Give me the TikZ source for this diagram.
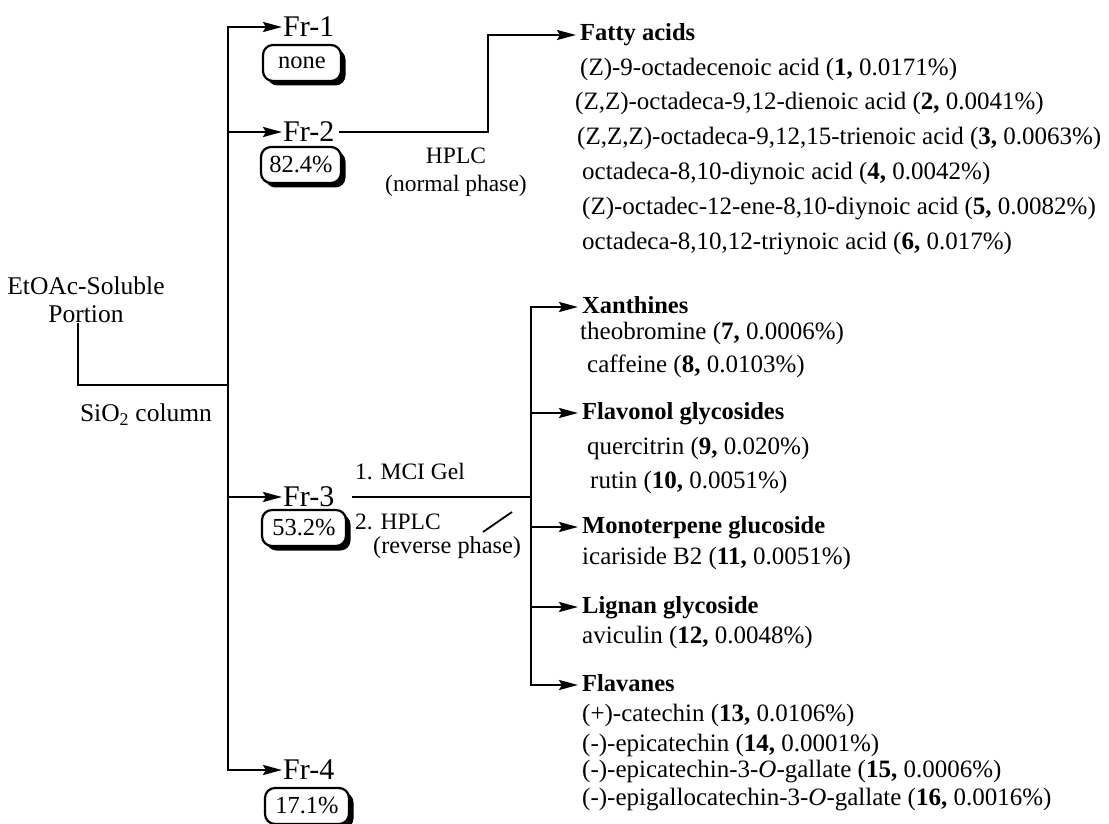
\documentclass[tikz,border=0pt]{standalone}
\usepackage{fontspec}
\setmainfont{Liberation Serif}
\usetikzlibrary{arrows.meta,shadows}
\begin{document}
\begin{tikzpicture}[x=1pt,y=-1pt,
  conn/.style={line width=2.4pt},
  arr/.style={conn,-{Stealth[length=19pt,width=10pt,inset=3pt]}},
  frlab/.style={anchor=west,inner sep=1pt,font=\fontsize{30}{32}\selectfont},
  pct/.style={draw,line width=2.2pt,rounded corners=10pt,fill=white,
    drop shadow={shadow xshift=4.5pt,shadow yshift=-4.5pt,fill=black,opacity=1},
    minimum height=36pt,inner xsep=5pt,inner ysep=0pt,font=\fontsize{24.5}{28}\selectfont},
  head/.style={anchor=west,inner xsep=4pt,inner ysep=0pt,text height=17pt,text depth=5pt,font=\fontsize{24.5}{28}\selectfont\bfseries},
  item/.style={anchor=west,inner sep=0pt,font=\fontsize{25}{28}\selectfont},
  lab/.style={inner sep=0pt,font=\fontsize{23.5}{28}\selectfont},
]
\useasboundingbox (0,0) rectangle (1109,824);

% source
\node[lab,align=center,font=\fontsize{25.5}{28}\selectfont] (src) at (86,300) {EtOAc-Soluble\\Portion};
\node[lab,font=\fontsize{25.5}{28}\selectfont] (sio) at (146,415) {SiO\textsubscript{2} column};
\coordinate (c0) at (78,385);
\coordinate (fork) at (228,385);
\coordinate (trunk) at (228,0);

% fractions
\node[frlab] (fr1) at (282,27) {Fr-1};
\node[frlab] (fr2) at (282,132) {Fr-2};
\node[frlab] (fr3) at (282,497) {Fr-3};
\node[frlab] (fr4) at (282,770) {Fr-4};
\node[pct,minimum width=78pt] (p1) at (302,63) {none};
\node[pct,minimum width=80pt] (p2) at (301,165) {82.4\%};
\node[pct,minimum width=84pt] (p3) at (304,528) {53.2\%};
\node[pct,minimum width=84pt] (p4) at (307,806) {17.1\%};

\draw[conn] (src.south -| c0) -- (c0) -- (fork);
\draw[conn,line cap=rect] (fr1.west -| trunk) -- (fr4.west -| trunk);
\draw[arr] (fr1.west -| trunk) -- (fr1.west);
\draw[arr] (fr2.west -| trunk) -- (fr2.west);
\draw[arr] (fr3.west -| trunk) -- (fr3.west);
\draw[arr] (fr4.west -| trunk) -- (fr4.west);

% Fr-2 branch
\coordinate (b2) at (488,0);
\node[head] (fatty) at (576,35) {Fatty acids};
\draw[arr,line join=miter] ([xshift=4pt]fr2.east) -- (fr2.east -| b2) |- (fatty.west);
\node[lab,align=center] (hplc1) at (456,172) {HPLC\\(normal phase)};

\node[item] (fa1) at (580,69) {(Z)-9-octadecenoic acid (\textbf{1,} 0.0171\%)};
\node[item] (fa2) at (575,103) {(Z,Z)-octadeca-9,12-dienoic acid (\textbf{2,} 0.0041\%)};
\node[item] (fa3) at (577,138) {(Z,Z,Z)-octadeca-9,12,15-trienoic acid (\textbf{3,} 0.0063\%)};
\node[item] (fa4) at (582,174) {octadeca-8,10-diynoic acid (\textbf{4,} 0.0042\%)};
\node[item] (fa5) at (582,209) {(Z)-octadec-12-ene-8,10-diynoic acid (\textbf{5,} 0.0082\%)};
\node[item] (fa6) at (582,244) {octadeca-8,10,12-triynoic acid (\textbf{6,} 0.017\%)};

% Fr-3 branch
\coordinate (v3) at (531,0);
\node[head] (xan) at (578,307) {Xanthines};
\node[head] (flo) at (578,413) {Flavonol glycosides};
\node[head] (mon) at (578,527) {Monoterpene glucoside};
\node[head] (lig) at (578,607) {Lignan glycoside};
\node[head] (fla) at (578,685) {Flavanes};
\draw[conn] ([xshift=17pt]fr3.east) -- (fr3.east -| v3);
\draw[conn,line cap=rect] (xan.west -| v3) -- (fla.west -| v3);
\draw[arr] (xan.west -| v3) -- (xan.west);
\draw[arr] (flo.west -| v3) -- (flo.west);
\draw[arr] (mon.west -| v3) -- (mon.west);
\draw[arr] (lig.west -| v3) -- (lig.west);
\draw[arr] (fla.west -| v3) -- (fla.west);

\node[lab,anchor=west] (mci) at (355,472) {1. MCI Gel};
\node[lab,anchor=west] (hplc2) at (355,522) {2. HPLC};
\node[lab,anchor=west,font=\fontsize{24.3}{28}\selectfont] (rev) at (373,548) {(reverse phase)};
\coordinate (s1) at (483,532);
\coordinate (s2) at (512,512);
\draw[line width=1.8pt] (s1) -- (s2);

\node[item] (i7) at (580,333) {theobromine (\textbf{7,} 0.0006\%)};
\node[item] (i8) at (587,366) {caffeine (\textbf{8,} 0.0103\%)};
\node[item] (i9) at (587,448) {quercitrin (\textbf{9,} 0.020\%)};
\node[item] (i10) at (590,482) {rutin (\textbf{10,} 0.0051\%)};
\node[item] (i11) at (582,558) {icariside B2 (\textbf{11,} 0.0051\%)};
\node[item] (i12) at (582,637) {aviculin (\textbf{12,} 0.0048\%)};
\node[item] (i13) at (582,715) {(+)-catechin (\textbf{13,} 0.0106\%)};
\node[item] (i14) at (582,745) {(-)-epicatechin (\textbf{14,} 0.0001\%)};
\node[item] (i15) at (582,772) {(-)-epicatechin-3-\textit{O}-gallate (\textbf{15,} 0.0006\%)};
\node[item] (i16) at (582,800) {(-)-epigallocatechin-3-\textit{O}-gallate (\textbf{16,} 0.0016\%)};
\end{tikzpicture}
\end{document}
